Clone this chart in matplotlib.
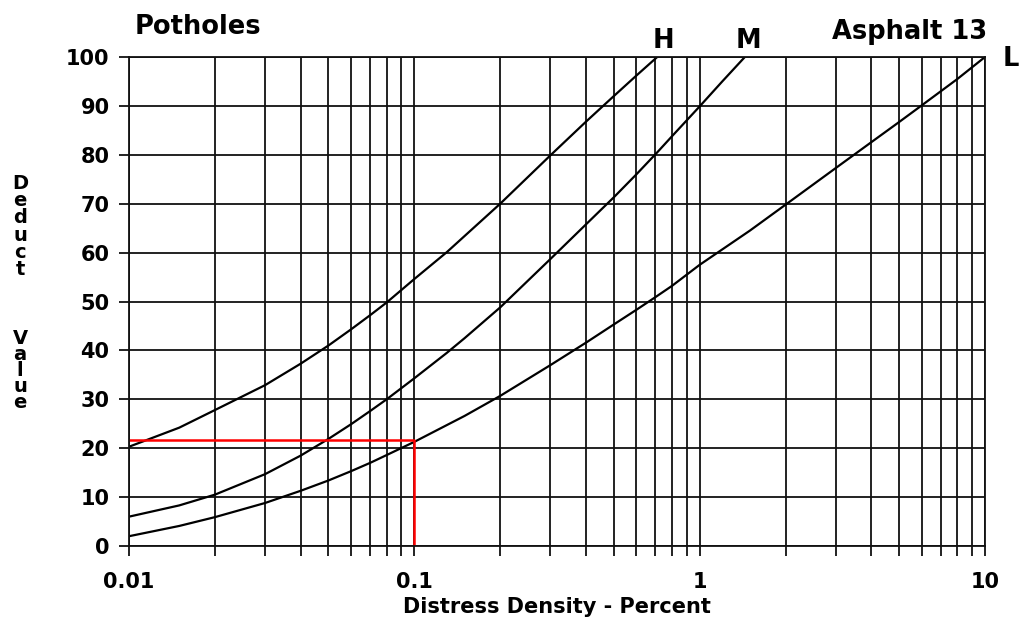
import numpy as np
import matplotlib.pyplot as plt
from matplotlib.ticker import LogLocator, FixedLocator, NullFormatter

# curves (density %, deduct value)
h_x = [0.01, 0.015, 0.02, 0.03, 0.04, 0.05, 0.06, 0.07, 0.08, 0.1, 0.13, 0.2, 0.3, 0.4, 0.5, 0.6, 0.71]
h_y = [20.3, 24.2, 27.8, 32.9, 37.3, 41.0, 44.3, 47.2, 49.8, 54.6, 60.1, 70.0, 79.9, 86.8, 92.0, 96.2, 100.0]

m_x = [0.01, 0.015, 0.02, 0.03, 0.04, 0.05, 0.06, 0.07, 0.08, 0.1, 0.13, 0.15, 0.2, 0.3, 0.4, 0.5,
       0.6, 0.71, 0.8, 1.0, 1.2, 1.44]
m_y = [6.0, 8.3, 10.5, 14.7, 18.5, 21.9, 24.9, 27.6, 30.0, 34.3, 39.5, 42.5, 48.8, 58.7, 65.8, 71.3,
       76.0, 80.5, 83.8, 89.9, 95.0, 100.0]

l_x = [0.01, 0.015, 0.02, 0.03, 0.04, 0.05, 0.06, 0.07, 0.08, 0.1, 0.15, 0.2, 0.3, 0.4, 0.5, 0.6,
       0.7, 0.8, 1.0, 1.5, 2.0, 3.0, 4.0, 5.0, 6.0, 8.0, 10.0]
l_y = [2.0, 4.1, 5.9, 8.8, 11.3, 13.4, 15.3, 17.0, 18.6, 21.3, 26.6, 30.7, 37.0, 41.6, 45.3, 48.3,
       50.9, 53.2, 57.5, 64.5, 69.8, 77.3, 82.6, 86.7, 90.1, 95.5, 100.0]

# red reading line
red_x = [0.01, 0.1, 0.1]
red_y = [21.7, 21.7, 0.5]

y_ticks = [0, 10, 20, 30, 40, 50, 60, 70, 80, 90, 100]
x_ticks = [0.01, 0.1, 1, 10]
x_tick_labels = ['0.01', '0.1', '1', '10']

W, H = 1025, 628
fig = plt.figure(figsize=(W / 100, H / 100), dpi=100)
ax = fig.add_axes([129 / W, 1 - 546 / H, (985 - 129) / W, (546 - 57) / H])

ax.set_xscale('log')
ax.set_xlim(0.01, 10)
ax.set_ylim(0, 100)

ax.xaxis.set_major_locator(FixedLocator(x_ticks))
ax.set_xticklabels(x_tick_labels)
ax.xaxis.set_minor_locator(LogLocator(base=10, subs=np.arange(2, 10)))
ax.xaxis.set_minor_formatter(NullFormatter())
ax.set_yticks(y_ticks)

ax.grid(True, which='both', axis='x', color='#111111', lw=1.3)
ax.grid(True, which='major', axis='y', color='#111111', lw=1.3)
ax.tick_params(axis='both', which='both', direction='out', length=7, width=1.3, color='#111111')
ax.tick_params(axis='y', pad=7, labelsize=15)
ax.tick_params(axis='x', pad=12, labelsize=15)
for lab in ax.get_xticklabels() + ax.get_yticklabels():
    lab.set_fontweight('bold')
for sp in ax.spines.values():
    sp.set_color('#111111')
    sp.set_linewidth(1.3)

ax.plot(h_x, h_y, color='black', lw=1.6)
ax.plot(m_x, m_y, color='black', lw=1.6)
ax.plot(l_x, l_y, color='black', lw=1.6)
ax.plot(red_x, red_y, color='red', lw=1.8)

ax.set_xlabel('Distress Density - Percent', fontsize=15, fontweight='bold', labelpad=3)


def px(x, y):
    return x / W, 1 - y / H


fig.text(*px(135, 34), 'Potholes', fontsize=18.5, fontweight='bold', va='baseline', ha='left')
fig.text(*px(987, 39), 'Asphalt 13', fontsize=18.5, fontweight='bold', va='baseline', ha='right')
fig.text(*px(663, 48), 'H', fontsize=18.5, fontweight='bold', va='baseline', ha='center')
fig.text(*px(748, 48), 'M', fontsize=18.5, fontweight='bold', va='baseline', ha='center')
fig.text(*px(1003, 66), 'L', fontsize=18.5, fontweight='bold', va='baseline', ha='left')

fig.text(*px(20, 174), '\n'.join('Deduct'), fontsize=14, fontweight='bold',
         va='top', ha='center', linespacing=0.88)
fig.text(*px(20, 329), '\n'.join('Value'), fontsize=14, fontweight='bold',
         va='top', ha='center', linespacing=0.8)

fig.savefig('out.png', dpi=100)
